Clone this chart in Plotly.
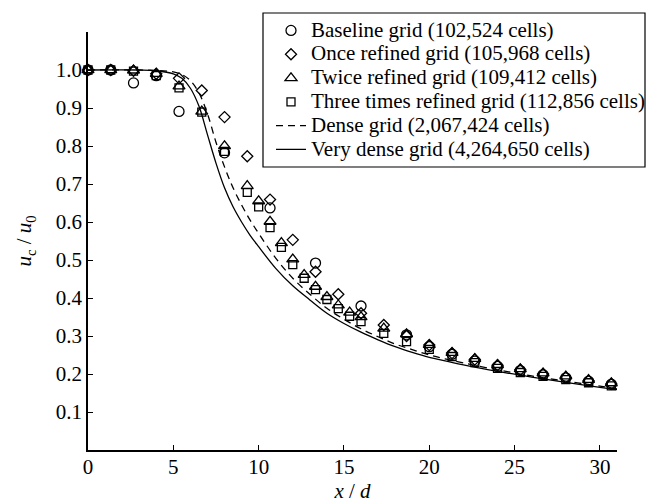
import plotly.graph_objects as go

# ---- data ----
x_baseline = [0, 1.333, 2.667, 4, 5.333, 8, 10.667, 13.333, 16, 18.667, 20, 21.333,
              22.667, 24, 25.333, 26.667, 28, 29.333, 30.667]
y_baseline = [1.0, 1.0, 0.966, 0.985, 0.891, 0.782, 0.637, 0.492, 0.379, 0.303, 0.272, 0.252,
              0.234, 0.220, 0.209, 0.198, 0.190, 0.181, 0.173]

x_once = [0, 1.333, 2.667, 4, 5.333, 6.667, 8, 9.333, 10.667, 12, 13.333, 14.667, 16,
          17.333, 18.667, 20, 21.333, 22.667, 24, 25.333, 26.667, 28, 29.333, 30.667]
y_once = [1.0, 1.0, 0.998, 0.990, 0.978, 0.946, 0.876, 0.773, 0.659, 0.553, 0.469, 0.410, 0.360,
          0.329, 0.300, 0.276, 0.255, 0.238, 0.223, 0.211, 0.200, 0.191, 0.182, 0.174]

x_fine = [0, 1.333, 2.667, 4, 5.333, 6.667, 8, 9.333, 10, 10.667, 11.333, 12, 12.667, 13.333,
          14, 14.667, 15.333, 16, 17.333, 18.667, 20, 21.333, 22.667, 24, 25.333, 26.667,
          28, 29.333, 30.667]
y_twice = [1.0, 1.0, 0.999, 0.990, 0.957, 0.891, 0.800, 0.695, 0.655, 0.601, 0.545, 0.502,
           0.461, 0.430, 0.403, 0.381, 0.362, 0.350, 0.320, 0.305, 0.277, 0.256, 0.240, 0.224,
           0.213, 0.202, 0.194, 0.185, 0.176]
y_three = [1.0, 1.0, 0.997, 0.985, 0.953, 0.889, 0.786, 0.678, 0.640, 0.585, 0.533, 0.488,
           0.452, 0.422, 0.396, 0.372, 0.352, 0.338, 0.307, 0.285, 0.265, 0.246, 0.230, 0.215,
           0.204, 0.194, 0.185, 0.177, 0.169]

x_dense = [0, 4, 5, 5.5, 6, 6.5, 7, 7.5, 8, 8.5, 9, 9.5, 10, 11, 12, 13, 14, 15, 16, 17, 18,
           19, 20, 21, 22, 24, 26, 28, 30, 31]
y_dense = [1.0, 0.999, 0.995, 0.988, 0.972, 0.940, 0.885, 0.810, 0.745, 0.690, 0.645, 0.605,
           0.570, 0.505, 0.452, 0.410, 0.373, 0.344, 0.319, 0.298, 0.279, 0.264, 0.250, 0.239,
           0.229, 0.211, 0.195, 0.181, 0.168, 0.161]

x_vdense = [0, 3, 4, 5, 5.5, 6, 6.5, 7, 7.5, 8, 8.5, 9, 9.5, 10, 11, 12, 13, 14, 15, 16, 17,
            18, 19, 20, 21, 22, 24, 26, 28, 30, 31]
y_vdense = [1.0, 1.0, 0.998, 0.990, 0.978, 0.952, 0.905, 0.830, 0.755, 0.690, 0.640, 0.600,
            0.565, 0.535, 0.478, 0.432, 0.395, 0.360, 0.333, 0.310, 0.290, 0.272, 0.257, 0.244,
            0.234, 0.224, 0.207, 0.192, 0.178, 0.165, 0.159]

names = ["Baseline grid (102,524 cells)", "Once refined grid (105,968 cells)",
         "Twice refined grid (109,412 cells)", "Three times refined grid (112,856 cells)",
         "Dense grid (2,067,424 cells)", "Very dense grid (4,264,650 cells)"]

x_ticks = [0, 5, 10, 15, 20, 25, 30]
y_ticks = [0.1, 0.2, 0.3, 0.4, 0.5, 0.6, 0.7, 0.8, 0.9, 1.0]

FONT = "Liberation Serif, Times New Roman, Times, serif"


def leg(t):
    return '<span style="font-size:21px">' + t + '</span>'


fig = go.Figure()
fig.add_trace(go.Scatter(x=x_baseline, y=y_baseline, mode="markers", name=leg(names[0]),
                         cliponaxis=False,
                         marker=dict(symbol="circle-open", size=10, color="black",
                                     line=dict(width=1.3, color="black"))))
fig.add_trace(go.Scatter(x=x_once, y=y_once, mode="markers", name=leg(names[1]),
                         cliponaxis=False,
                         marker=dict(symbol="diamond-open", size=8.5, color="black",
                                     line=dict(width=1.3, color="black"))))
fig.add_trace(go.Scatter(x=x_fine, y=y_twice, mode="markers", name=leg(names[2]),
                         cliponaxis=False,
                         marker=dict(symbol="triangle-up-open", size=10.5, color="black",
                                     line=dict(width=1.3, color="black"))))
fig.add_trace(go.Scatter(x=x_fine, y=y_three, mode="markers", name=leg(names[3]),
                         cliponaxis=False,
                         marker=dict(symbol="square-open", size=8, color="black",
                                     line=dict(width=1.3, color="black"))))
fig.add_trace(go.Scatter(x=x_dense, y=y_dense, mode="lines", name=leg(names[4]),
                         line=dict(color="black", width=1.3, dash="7px,5px", shape="spline")))
fig.add_trace(go.Scatter(x=x_vdense, y=y_vdense, mode="lines", name=leg(names[5]),
                         line=dict(color="black", width=1.3, shape="spline")))

L, R, T, B = 88, 30, 32, 53
W, H = 647, 503
pw, ph = W - L - R, H - T - B


def px2x(p):
    return (p - L) / pw


def px2y(p):
    return (H - B - p) / ph


fig.add_shape(type="rect", xref="paper", yref="paper",
              x0=px2x(263), x1=px2x(645), y0=px2y(167), y1=px2y(13),
              line=dict(color="black", width=1.2), fillcolor="rgba(0,0,0,0)", layer="above")

axis_common = dict(showline=True, linecolor="black", linewidth=1.5, showgrid=False,
                   zeroline=False, ticks="inside", ticklen=5, tickwidth=1.2, tickcolor="black",
                   tickfont=dict(family=FONT, size=21, color="black"))

fig.update_layout(
    width=W, height=H,
    margin=dict(l=L, r=R, t=T, b=B, autoexpand=False),
    paper_bgcolor="white", plot_bgcolor="white",
    font=dict(family=FONT, size=21, color="black"),
    showlegend=True,
    legend=dict(x=px2x(271), y=px2y(13.5), xanchor="left", yanchor="top",
                bgcolor="rgba(0,0,0,0)", borderwidth=0, itemwidth=30,
                font=dict(family=FONT, size=16, color="black")),
    xaxis=dict(range=[0, 31], tickvals=x_ticks, ticklabelstandoff=-3, **axis_common,
               title=dict(text="<i>x</i> / <i>d</i>", standoff=4,
                          font=dict(family=FONT, size=21, color="black"))),
    yaxis=dict(range=[0, 1.1], tickvals=y_ticks, tickformat=".1f", **axis_common,
               title=dict(text="<i>u</i><sub>c</sub> / <i>u</i><sub>0</sub>", standoff=18,
                          font=dict(family=FONT, size=21, color="black"))),
)

fig.write_html("out.html")
